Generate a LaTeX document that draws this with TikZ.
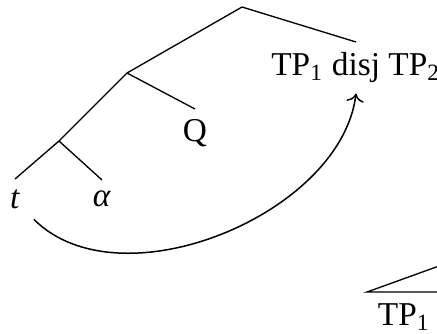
\documentclass[tikz,border=0pt]{standalone}
\usepackage{fontspec}
\setmainfont{Liberation Serif}
\usetikzlibrary{arrows.meta, positioning}

\begin{document}
\begin{tikzpicture}[x=0.3pt, y=-0.3pt,
  branch/.style={line width=0.4pt},
  leaf/.style={anchor=north, inner sep=3pt},
  move/.style={-{To[length=2.5pt]}, line width=0.45pt}]

% ============================================================
% Frame — the picture is a window onto a larger tree
% ============================================================
\useasboundingbox (0,0) rectangle (437,333);
\clip (0,0) rectangle (437,333);

% Branching points (pixel grid, y downwards)
\coordinate (root) at (242,7);
\coordinate (qbar) at (127,73);
\coordinate (tbar) at (59,141);

% Leaves
\node[leaf] (disj)  at (356,42)  {TP\textsubscript{1} disj TP\textsubscript{2}};
\node[leaf] (q)     at (195,109) {Q};
\node[leaf] (t)     at (15,179)  {\textit{t}};
\node[leaf] (alpha) at (102,180) {\textit{α}};

% Branches
\draw[branch] (root) -- (disj.north);
\draw[branch] (root) -- (qbar) -- (tbar) -- (t.north);
\draw[branch] (qbar) -- (q.north);
\draw[branch] (tbar) -- (alpha.north);

% Movement arrow from the trace
\draw[move] ([xshift=1pt]t.south east) to[out=-45, in=-97, looseness=0.9] (disj.south);

% ============================================================
% Roof of the next tree (cut off at the frame)
% ============================================================
\coordinate (apex)  at (475,253);
\coordinate (roofL) at (367,292);
\coordinate (roofR) at (583,292);
\node[leaf] (tp) at (404,293) {TP\textsubscript{1}};
\draw[branch] (apex) -- (roofL) -- (roofR) -- cycle;

\end{tikzpicture}
\end{document}
